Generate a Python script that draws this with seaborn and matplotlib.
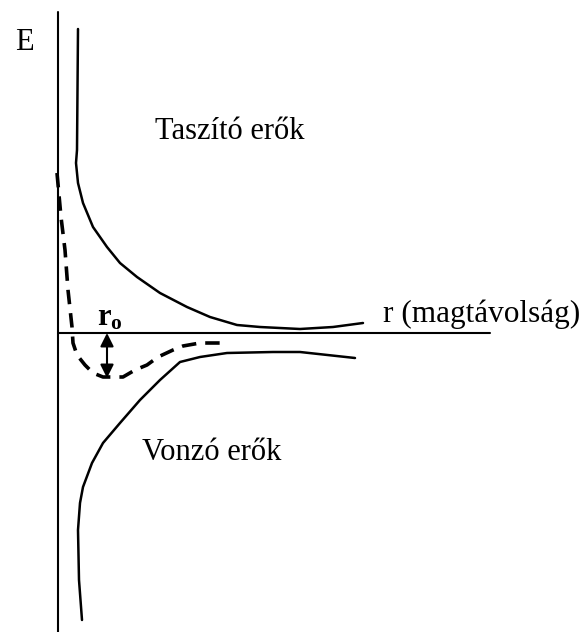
import seaborn as sns
import matplotlib.pyplot as plt
import pandas as pd

# r: distance, E: energy (arbitrary units, origin at the axes crossing)
rep_r = [20, 19, 18, 20, 25, 35, 49, 62, 79, 102, 129, 152, 179, 202, 242, 275, 305]
rep_E = [304, 183, 170, 150, 130, 106, 86, 70, 56, 40, 26, 16, 8, 6, 4, 6, 10]

att_r = [24, 21, 20, 22, 25, 34, 45, 62, 82, 102, 122, 142, 169, 215, 242, 297]
att_E = [-287, -247, -197, -170, -154, -130, -110, -90, -67, -47, -29, -24, -20, -19, -19, -25]

tot_r = [-1, 3, 7, 10, 14, 15, 19, 27, 35, 45, 65, 77, 89, 100, 115, 125, 142, 170]
tot_E = [160, 116, 83, 43, 6, -10, -22, -32, -40, -44, -44, -37, -32, -24, -17, -13, -10, -10]

r0 = 49
E_min = -45

sns.set_style("white")
plt.rcParams['font.family'] = ['Liberation Serif', 'DejaVu Serif']
plt.rcParams['mathtext.fontset'] = 'custom'
plt.rcParams['mathtext.rm'] = 'Liberation Serif'
plt.rcParams['mathtext.bf'] = 'Liberation Serif:bold'
plt.rcParams['text.color'] = 'black'

fig = plt.figure(figsize=(5.84, 6.32), dpi=100)
ax = fig.add_axes([0, 0, 1, 1])

rep = pd.DataFrame({'r': rep_r, 'E': rep_E})
att = pd.DataFrame({'r': att_r, 'E': att_E})
tot = pd.DataFrame({'r': tot_r, 'E': tot_E})

sns.lineplot(data=rep, x='r', y='E', sort=False, estimator=None, color='black', lw=1.8, ax=ax)
sns.lineplot(data=att, x='r', y='E', sort=False, estimator=None, color='black', lw=1.8, ax=ax)
sns.lineplot(data=tot, x='r', y='E', sort=False, estimator=None, color='black', lw=2.6, ax=ax,
             linestyle=(0, (4, 2.5)))

# axes
ax.plot([0, 0], [-299, 321], color='black', lw=1.5)
ax.plot([0, 432], [0, 0], color='black', lw=1.5)

ax.annotate('', xy=(r0, E_min), xytext=(r0, 0),
            arrowprops=dict(arrowstyle='<|-|>', color='black', lw=1.5,
                            mutation_scale=20, shrinkA=0, shrinkB=0))

ax.text(-34, 291, 'E', fontsize=22, ha='center', va='center')
ax.text(97, 194, 'Taszító erők', fontsize=22, ha='left', va='baseline')
ax.text(84, -127, 'Vonzó erők', fontsize=22, ha='left', va='baseline')
ax.text(325, 11, 'r (magtávolság)', fontsize=22.5, ha='left', va='baseline')
ax.text(39, 7, r'$\mathbf{r_o}$', fontsize=22, ha='left', va='baseline')

ax.set_xlim(-58, 526)
ax.set_ylim(-299, 333)
ax.axis('off')

fig.savefig('out.png', dpi=100)
